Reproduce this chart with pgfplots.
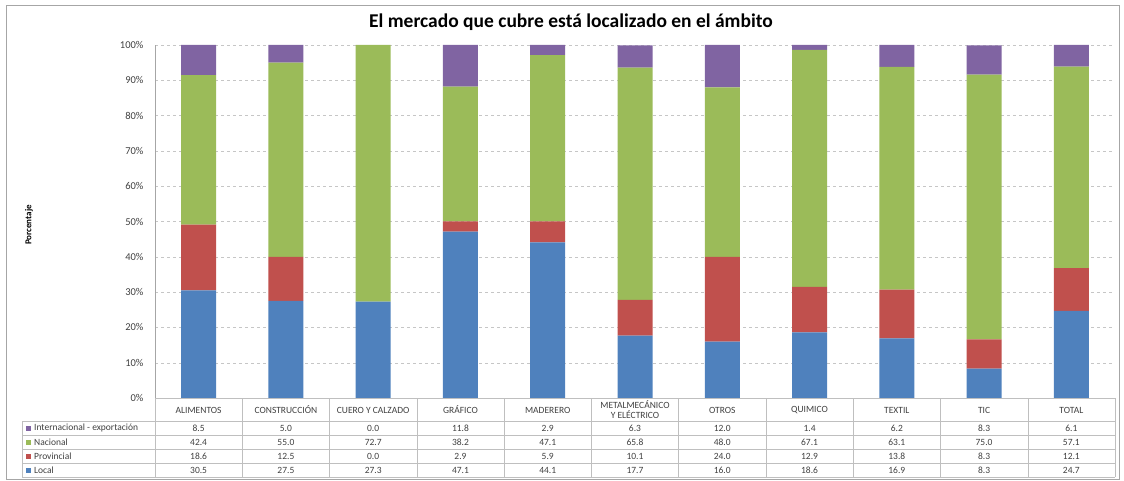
\documentclass[border=0pt]{standalone}
\usepackage{fontspec}
\setmainfont{Carlito}
\usepackage{pgfplots}
\usepackage{pgfplotstable}
\pgfplotsset{compat=1.18}
\definecolor{cLocal}{HTML}{4F81BD}
\definecolor{cProv}{HTML}{C0504D}
\definecolor{cNac}{HTML}{9BBB59}
\definecolor{cIntl}{HTML}{8064A2}
\definecolor{tabline}{HTML}{BFBFBF}
\definecolor{txt}{HTML}{404040}

\pgfplotstableread{
cat local prov nac intl
0 30.5 18.6 42.4 8.5
1 27.5 12.5 55.0 5.0
2 27.3 0.0 72.7 0.0
3 47.1 2.9 38.2 11.8
4 44.1 5.9 47.1 2.9
5 17.7 10.1 65.8 6.3
6 16.0 24.0 48.0 12.0
7 18.6 12.9 67.1 1.4
8 16.9 13.8 63.1 6.2
9 8.3 8.3 75.0 8.3
10 24.7 12.1 57.1 6.1
}\data

\begin{document}
\begin{tikzpicture}[x=1pt,y=1pt]
\path[use as bounding box] (0,0) rectangle (1124,-481);
\draw[gray!70] (6,-5) rectangle (1119,-479);
\node[font=\bfseries\fontsize{19.5}{22}\selectfont] at (571,-22) {El mercado que cubre está localizado en el ámbito};
\node[rotate=90,font=\bfseries\fontsize{9}{10}\selectfont] at (29,-225) {Porcentaje};
\begin{axis}[
  at={(155pt,-398pt)}, anchor=south west,
  scale only axis, width=960pt, height=353pt,
  xmin=-0.5, xmax=10.5, ymin=0, ymax=100,
  ybar stacked, bar width=35pt,
  axis x line=none, axis y line=left,
  y axis line style={-, draw=gray!70},
  ytick={0,10,...,100},
  yticklabel={\pgfmathprintnumber{\tick}\%},
  /pgf/number format/assume math mode=true,
  yticklabel style={font=\fontsize{10.5}{12}\selectfont, text=txt, xshift=-8pt},
  major tick length=0pt,
  ymajorgrids, grid style={dashed, gray!45},
  clip=false,
]
\addplot[fill=cLocal, draw=none] table[x=cat,y=local] \data;
\addplot[fill=cProv, draw=none] table[x=cat,y=prov] \data;
\addplot[fill=cNac, draw=none] table[x=cat,y=nac] \data;
\addplot[fill=cIntl, draw=none] table[x=cat,y=intl] \data;
\end{axis}
% data table
\begin{scope}[tabline]
\draw (155,-398) -- (1115,-398);
\foreach \r in {421,435,449,463,477} \draw (22,-\r) -- (1115,-\r);
\draw (22,-421) -- (22,-477);
\foreach \k in {0,...,11} \draw ({155+87.2727*\k},-398) -- ({155+87.2727*\k},-477);
\end{scope}
\tikzset{tabfont/.style={font=\fontsize{9.5}{10}\selectfont, text=txt, inner sep=0pt}}
\foreach \i/\name in {0/ALIMENTOS,1/CONSTRUCCIÓN,2/CUERO Y CALZADO,3/GRÁFICO,4/MADERERO,5/{METALMECÁNICO\\Y ELÉCTRICO},6/OTROS,7/QUIMICO,8/TEXTIL,9/TIC,10/TOTAL}{
  \pgfmathsetmacro{\xc}{155+87.2727*(\i+0.5)}
  \node[tabfont, align=center] at (\xc,-410) {\name};
  \pgfplotstablegetelem{\i}{intl}\of\data
  \node[tabfont] at (\xc,-428) {\pgfplotsretval};
  \pgfplotstablegetelem{\i}{nac}\of\data
  \node[tabfont] at (\xc,-442) {\pgfplotsretval};
  \pgfplotstablegetelem{\i}{prov}\of\data
  \node[tabfont] at (\xc,-456) {\pgfplotsretval};
  \pgfplotstablegetelem{\i}{local}\of\data
  \node[tabfont] at (\xc,-470) {\pgfplotsretval};
}
\foreach \y/\c/\t in {428/cIntl/Internacional - exportación, 442/cNac/Nacional, 456/cProv/Provincial, 470/cLocal/Local}{
  \fill[\c] (26,-\y-2.5) rectangle (31,-\y+2.5);
  \node[tabfont, anchor=west] at (34,-\y) {\t};
}
\end{tikzpicture}
\end{document}
